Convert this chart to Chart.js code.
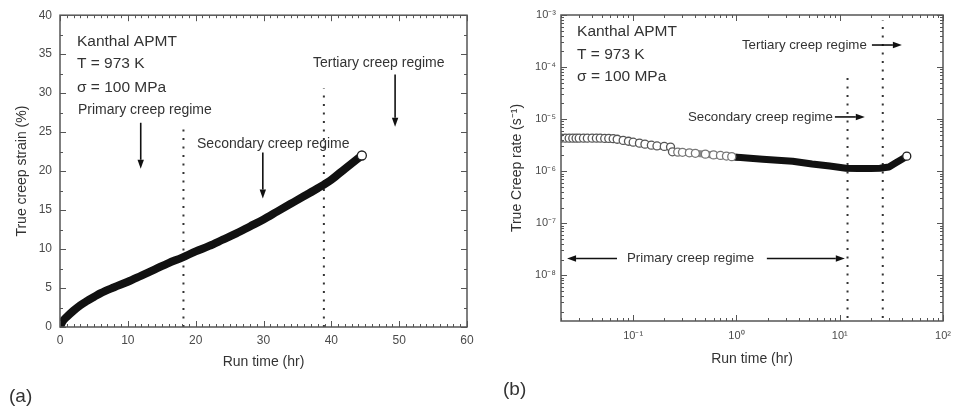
<!DOCTYPE html>
<html><head><meta charset="utf-8">
<script src="https://cdn.jsdelivr.net/npm/chart.js@4.4.1/dist/chart.umd.min.js"></script>
<style>
html,body{margin:0;padding:0;background:#fff;width:961px;height:408px;overflow:hidden}
#wa{position:absolute;left:0;top:0;width:480px;height:408px}
#wb{position:absolute;left:480px;top:0;width:481px;height:408px}
</style></head><body>
<div id="wa"><canvas id="ca" width="480" height="408"></canvas></div>
<div id="wb"><canvas id="cb" width="481" height="408"></canvas></div>
<script>
// ---------- data ----------
// (a) true creep strain vs run time
const strainTime = [0, 0.25, 0.5, 1, 2, 3, 4, 5, 6, 8, 10, 12, 14, 16, 18, 20, 22, 24, 26, 28, 30, 32, 34, 36, 38, 40, 42, 44.5];
const strainPct  = [0, 0.5, 0.85, 1.3, 2.1, 2.8, 3.35, 3.85, 4.35, 5.1, 5.8, 6.6, 7.4, 8.2, 8.9, 9.7, 10.4, 11.2, 12.0, 12.9, 13.8, 14.8, 15.8, 16.8, 17.8, 18.9, 20.3, 22.0];
// (b) true creep rate vs run time
const rateTime  = [0.02, 0.022, 0.024, 0.026, 0.028, 0.03, 0.033, 0.036, 0.04, 0.044, 0.048, 0.053, 0.058, 0.064,
                   0.07, 0.08, 0.09, 0.1, 0.115, 0.13, 0.15, 0.17, 0.2, 0.23,
                   0.24, 0.27, 0.3, 0.35, 0.4, 0.5, 0.6, 0.7, 0.8, 0.9, 1.0, 1.1, 1.26,
                   1.8, 2.5, 3.5, 5.4, 8, 11.5, 15, 20, 24.5, 30, 35, 40, 44.6];
const rateValue = [4.3e-6, 4.3e-6, 4.3e-6, 4.3e-6, 4.3e-6, 4.3e-6, 4.3e-6, 4.3e-6, 4.3e-6, 4.3e-6, 4.3e-6, 4.25e-6, 4.25e-6, 4.2e-6,
                   4.1e-6, 3.9e-6, 3.75e-6, 3.6e-6, 3.45e-6, 3.3e-6, 3.15e-6, 3.05e-6, 2.98e-6, 2.9e-6,
                   2.35e-6, 2.32e-6, 2.3e-6, 2.25e-6, 2.2e-6, 2.12e-6, 2.05e-6, 2.0e-6, 1.95e-6, 1.9e-6, 1.85e-6, 1.82e-6, 1.78e-6,
                   1.7e-6, 1.62e-6, 1.55e-6, 1.37e-6, 1.25e-6, 1.14e-6, 1.12e-6, 1.12e-6, 1.14e-6, 1.2e-6, 1.45e-6, 1.7e-6, 1.94e-6];
// regime boundaries (dotted lines)
const strainBoundX = [18.2, 38.9];
const strainBoundTop = [25.9, 30.6];
const rateBoundX = [11.9, 26.1];
const rateBoundTop = [7.7e-5, 8e-4];
const rateBoundBottom = 1.5e-9;
// tick labels
const strainXTicks = [0, 10, 20, 30, 40, 50, 60];
const strainYTicks = [0, 5, 10, 15, 20, 25, 30, 35, 40];
const rateXTicks = [0.1, 1, 10, 100];
const rateYTicks = [1e-8, 1e-7, 1e-6, 1e-5, 1e-4, 1e-3];

// ---------- helpers ----------
const FONT = "'Liberation Sans', Arial, Helvetica, sans-serif";
const SUP = {'-':'\u207B','0':'\u2070','1':'\u00B9','2':'\u00B2','3':'\u00B3','4':'\u2074','5':'\u2075','6':'\u2076','7':'\u2077','8':'\u2078','9':'\u2079'};
const pow10Label = v => { const e = Math.round(Math.log10(v)); return '10' + String(e).split('').map(c => SUP[c]).join(''); };
const pts = (xs, ys) => xs.map((x, i) => ({x, y: ys[i]}));

const framePlugin = {
  id: 'frame',
  afterDatasetsDraw(chart, args, o) {
    const {ctx, chartArea: a, scales: {x, y}} = chart;
    ctx.save();
    ctx.strokeStyle = o.color;
    ctx.lineWidth = 1;
    const seg = (x1, y1, x2, y2) => { ctx.beginPath(); ctx.moveTo(x1, y1); ctx.lineTo(x2, y2); ctx.stroke(); };
    const list = (s, step, isLog) => {
      const out = [];
      if (isLog) {
        for (let e = Math.floor(Math.log10(s.min)); e <= Math.ceil(Math.log10(s.max)); e++)
          for (let k = 1; k <= 9; k++) { const v = k * Math.pow(10, e); if (v >= s.min * 0.999 && v <= s.max * 1.001) out.push([v, k === 1]); }
      } else {
        for (let v = s.min; v <= s.max + 1e-9; v += step.minor) out.push([v, Math.abs(v / step.major - Math.round(v / step.major)) < 1e-6]);
      }
      return out;
    };
    list(x, o.xStep, o.xLog).forEach(([v, maj]) => {
      const p = Math.round(x.getPixelForValue(v)) + 0.5, L = maj ? o.major : o.minor;
      seg(p, a.bottom, p, a.bottom - L); seg(p, a.top, p, a.top + L);
    });
    list(y, o.yStep, o.yLog).forEach(([v, maj]) => {
      const p = Math.round(y.getPixelForValue(v)) + 0.5, L = maj ? o.major : o.minor;
      seg(a.left, p, a.left + L, p); seg(a.right, p, a.right - L, p);
    });
    ctx.lineWidth = o.width;
    ctx.strokeRect(a.left, a.top, a.right - a.left, a.bottom - a.top);
    ctx.restore();
  }
};

const annotPlugin = {
  id: 'annot',
  afterDraw(chart, args, o) {
    const {ctx, scales: {x, y}} = chart;
    ctx.save();
    ctx.fillStyle = o.textColor;
    ctx.textBaseline = 'middle';
    ctx.textAlign = 'left';
    (o.texts || []).forEach(t => {
      ctx.font = t.size + 'px ' + FONT;
      ctx.fillText(t.text, x.getPixelForValue(t.x), y.getPixelForValue(t.y));
    });
    ctx.strokeStyle = '#111'; ctx.fillStyle = '#111'; ctx.lineWidth = 1.6;
    (o.arrows || []).forEach(r => {
      const x1 = x.getPixelForValue(r.x1), y1 = y.getPixelForValue(r.y1);
      const x2 = x.getPixelForValue(r.x2), y2 = y.getPixelForValue(r.y2);
      const ang = Math.atan2(y2 - y1, x2 - x1), L = 9, W = 3.2;
      const bx = x2 - L * Math.cos(ang), by = y2 - L * Math.sin(ang);
      ctx.beginPath(); ctx.moveTo(x1, y1); ctx.lineTo(bx, by); ctx.stroke();
      ctx.beginPath(); ctx.moveTo(x2, y2);
      ctx.lineTo(bx - W * Math.sin(ang), by + W * Math.cos(ang));
      ctx.lineTo(bx + W * Math.sin(ang), by - W * Math.cos(ang));
      ctx.closePath(); ctx.fill();
    });
    ctx.fillStyle = o.textColor;
    (o.panel ? [o.panel] : []).forEach(p => {
      ctx.font = p.size + 'px ' + FONT;
      ctx.fillText(p.text, p.px, p.py);
    });
    ctx.restore();
  }
};

const tickFont = {family: FONT, size: 12};
const titleFont = {family: FONT, size: 14};
const TICKC = '#4a4a4a', TITLEC = '#333';
const dotted = (x, y0, y1) => ({
  data: [{x, y: y0}, {x, y: y1}], borderColor: '#333', borderWidth: 2, borderDash: [2, 6.5],
  pointRadius: 0, fill: false, tension: 0
});

// ---------- (a) ----------
const lastA = strainTime.length - 1;
new Chart(document.getElementById('ca'), {
  type: 'line',
  data: {datasets: [
    {data: pts(strainTime, strainPct), borderColor: '#111', borderWidth: 8, cubicInterpolationMode: 'monotone',
     borderCapStyle: 'round', borderJoinStyle: 'round',
     pointRadius: c => c.dataIndex === lastA ? 4.5 : 0, pointBackgroundColor: '#fff',
     pointBorderColor: '#222', pointBorderWidth: 1.3},
    dotted(strainBoundX[0], 0, strainBoundTop[0]),
    dotted(strainBoundX[1], 0, strainBoundTop[1])
  ]},
  options: {
    responsive: false, animation: false, events: [],
    layout: {padding: {left: 0, right: 13, top: 15, bottom: 37}},
    plugins: {
      legend: {display: false}, tooltip: {enabled: false},
      frame: {color: '#555', width: 1.5, major: 6, minor: 3, xStep: {major: 10, minor: 1}, yStep: {major: 5, minor: 2.5}},
      annot: {
        textColor: '#333',
        texts: [
          {x: 2.5, y: 36.6, text: 'Kanthal APMT', size: 15.5},
          {x: 2.5, y: 33.8, text: 'T = 973 K', size: 15.5},
          {x: 2.5, y: 30.7, text: '\u03C3 = 100 MPa', size: 15.5},
          {x: 2.65, y: 27.8, text: 'Primary creep regime', size: 14},
          {x: 20.2, y: 23.5, text: 'Secondary creep regime', size: 14},
          {x: 37.3, y: 33.8, text: 'Tertiary creep regime', size: 14}
        ],
        arrows: [
          {x1: 11.9, y1: 26.2, x2: 11.9, y2: 20.3},
          {x1: 29.9, y1: 22.4, x2: 29.9, y2: 16.5},
          {x1: 49.4, y1: 32.4, x2: 49.4, y2: 25.7}
        ],
        panel: {text: '(a)', px: 9, py: 397, size: 19}
      }
    },
    scales: {
      x: {type: 'linear', min: 0, max: 60,
          afterBuildTicks: s => { s.ticks = strainXTicks.map(v => ({value: v})); },
          ticks: {font: tickFont, color: TICKC, padding: 6, maxRotation: 0, autoSkip: false},
          grid: {display: false, drawTicks: false}, border: {display: false},
          title: {display: true, text: 'Run time (hr)', font: titleFont, color: TITLEC, padding: 0},
          afterFit: s => { s.height = 44; }},
      y: {type: 'linear', min: 0, max: 40,
          afterBuildTicks: s => { s.ticks = strainYTicks.map(v => ({value: v})); },
          ticks: {font: tickFont, color: TICKC, padding: 8, autoSkip: false},
          grid: {display: false, drawTicks: false}, border: {display: false},
          title: {display: true, text: 'True creep strain (%)', font: titleFont, color: TITLEC, padding: {top: 13.6, bottom: 0}},
          afterFit: s => { s.width = 60; }}
    }
  },
  plugins: [framePlugin, annotPlugin]
});

// ---------- (b) ----------
const lastB = rateTime.length - 1;
new Chart(document.getElementById('cb'), {
  type: 'line',
  data: {datasets: [
    {data: pts(rateTime, rateValue), borderWidth: 7, tension: 0,
     borderCapStyle: 'round', borderJoinStyle: 'round',
     segment: {borderColor: c => c.p0.parsed.x < 1.0 ? '#8a8a8a' : '#111'},
     borderColor: '#111',
     pointRadius: c => (c.dataIndex === lastB || rateTime[c.dataIndex] < 1.0) ? 4 : 0,
     pointBackgroundColor: '#fff',
     pointBorderColor: c => c.dataIndex === lastB ? '#222' : (rateTime[c.dataIndex] < 0.25 ? '#555' : '#777'),
     pointBorderWidth: 1.3},
    dotted(rateBoundX[0], rateBoundBottom, rateBoundTop[0]),
    dotted(rateBoundX[1], rateBoundBottom, rateBoundTop[1])
  ]},
  options: {
    responsive: false, animation: false, events: [],
    layout: {padding: {left: 0, right: 18, top: 15, bottom: 40}},
    plugins: {
      legend: {display: false}, tooltip: {enabled: false},
      frame: {color: '#555', width: 1.5, major: 6, minor: 3, xLog: true, yLog: true},
      annot: {
        textColor: '#333',
        texts: [
          {x: 0.0286, y: 4.7e-4, text: 'Kanthal APMT', size: 15.5},
          {x: 0.0286, y: 1.7e-4, text: 'T = 973 K', size: 15.5},
          {x: 0.0286, y: 6.4e-5, text: '\u03C3 = 100 MPa', size: 15.5},
          {x: 1.13, y: 2.65e-4, text: 'Tertiary creep regime', size: 13.3},
          {x: 0.339, y: 1.1e-5, text: 'Secondary creep regime', size: 13.3},
          {x: 0.087, y: 2.1e-8, text: 'Primary creep regime', size: 13.3}
        ],
        arrows: [
          {x1: 20.5, y1: 2.65e-4, x2: 40, y2: 2.65e-4},
          {x1: 8.98, y1: 1.1e-5, x2: 17.5, y2: 1.1e-5},
          {x1: 0.0697, y1: 2.1e-8, x2: 0.0229, y2: 2.1e-8},
          {x1: 1.97, y1: 2.1e-8, x2: 11.2, y2: 2.1e-8}
        ],
        panel: {text: '(b)', px: 23, py: 390, size: 19}
      }
    },
    scales: {
      x: {type: 'logarithmic', min: 0.02, max: 100,
          afterBuildTicks: s => { s.ticks = rateXTicks.map(v => ({value: v})); },
          ticks: {font: {family: FONT, size: 11}, color: TICKC, padding: 8, maxRotation: 0, autoSkip: false,
                  callback: v => pow10Label(v)},
          grid: {display: false, drawTicks: false}, border: {display: false},
          title: {display: true, text: 'Run time (hr)', font: titleFont, color: TITLEC, padding: 0},
          afterFit: s => { s.height = 47; }},
      y: {type: 'logarithmic', min: 1.32e-9, max: 1e-3,
          afterBuildTicks: s => { s.ticks = rateYTicks.map(v => ({value: v})); },
          ticks: {font: {family: FONT, size: 11}, color: TICKC, padding: 5, autoSkip: false,
                  callback: v => pow10Label(v)},
          grid: {display: false, drawTicks: false}, border: {display: false},
          title: {display: true, text: 'True Creep rate (s\u207B\u00B9)', font: titleFont, color: TITLEC, padding: {top: 28.6, bottom: 0}},
          afterFit: s => { s.width = 81; }}
    }
  },
  plugins: [framePlugin, annotPlugin]
});
</script>
</body></html>
